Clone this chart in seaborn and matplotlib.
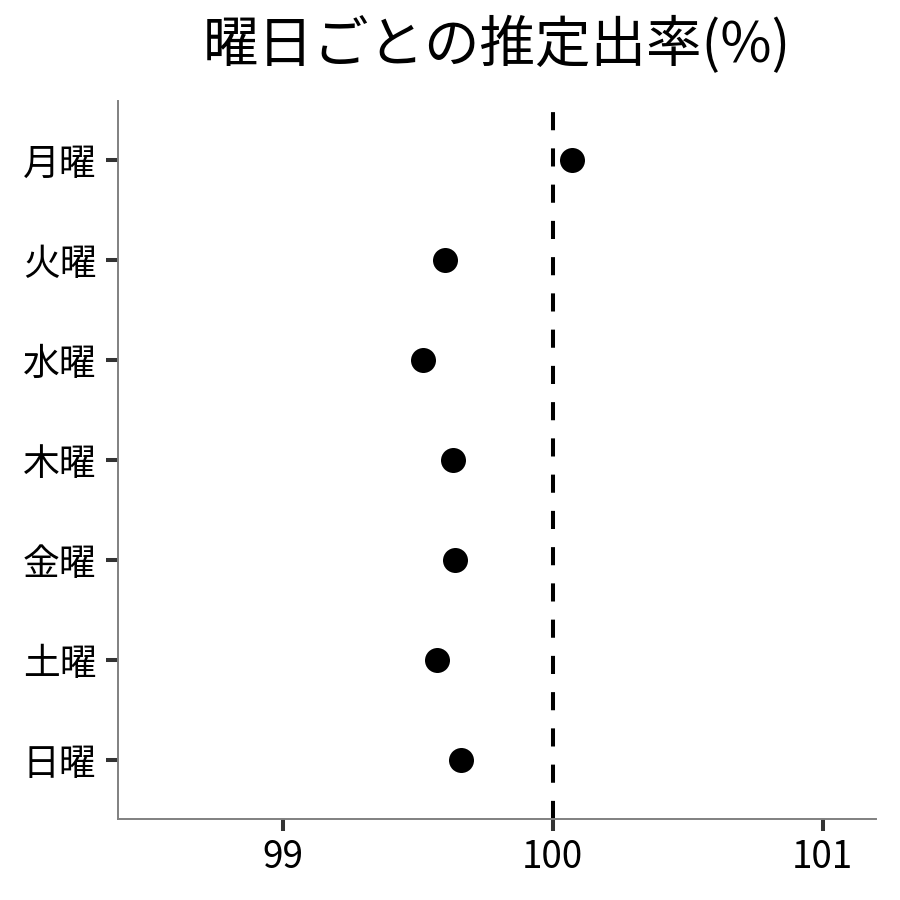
import numpy as np
import pandas as pd
import matplotlib
matplotlib.use("Agg")
import matplotlib.pyplot as plt
import seaborn as sns

days = ["月曜", "火曜", "水曜", "木曜", "金曜", "土曜", "日曜"]
rates = [100.07, 99.60, 99.52, 99.63, 99.64, 99.57, 99.66]

sns.set_theme(style="white")
plt.rcParams["font.family"] = ["Noto Sans CJK JP", "DejaVu Sans"]

df = pd.DataFrame({"day": days, "rate": rates})

fig = plt.figure(figsize=(9, 9), dpi=100)
ax = fig.add_axes([0.131, 0.09, 0.842, 0.798])

sns.stripplot(data=df, x="rate", y="day", order=days, jitter=False,
              color="black", size=18, linewidth=0, ax=ax)
ax.axvline(100, color="black", linestyle=(0, (4.5, 4.5)), linewidth=2.9)

ax.set_xlim(98.39, 101.196)
ax.set_ylim(6.59, -0.59)
ax.set_xticks([99, 100, 101])
ax.set_xlabel("")
ax.set_ylabel("")
ax.set_title("曜日ごとの推定出率(%)", fontsize=40, color="black", pad=28)

ax.tick_params(axis="both", which="major", length=8.6, width=2.9,
               color="#333333", labelsize=26.5, labelcolor="black",
               left=True, bottom=True, pad=5)
ax.tick_params(axis="y", pad=7)
for side in ["top", "right"]:
    ax.spines[side].set_visible(False)
for side in ["left", "bottom"]:
    ax.spines[side].set_color("#808080")
    ax.spines[side].set_linewidth(1.4)

fig.savefig("out.png", dpi=100)
